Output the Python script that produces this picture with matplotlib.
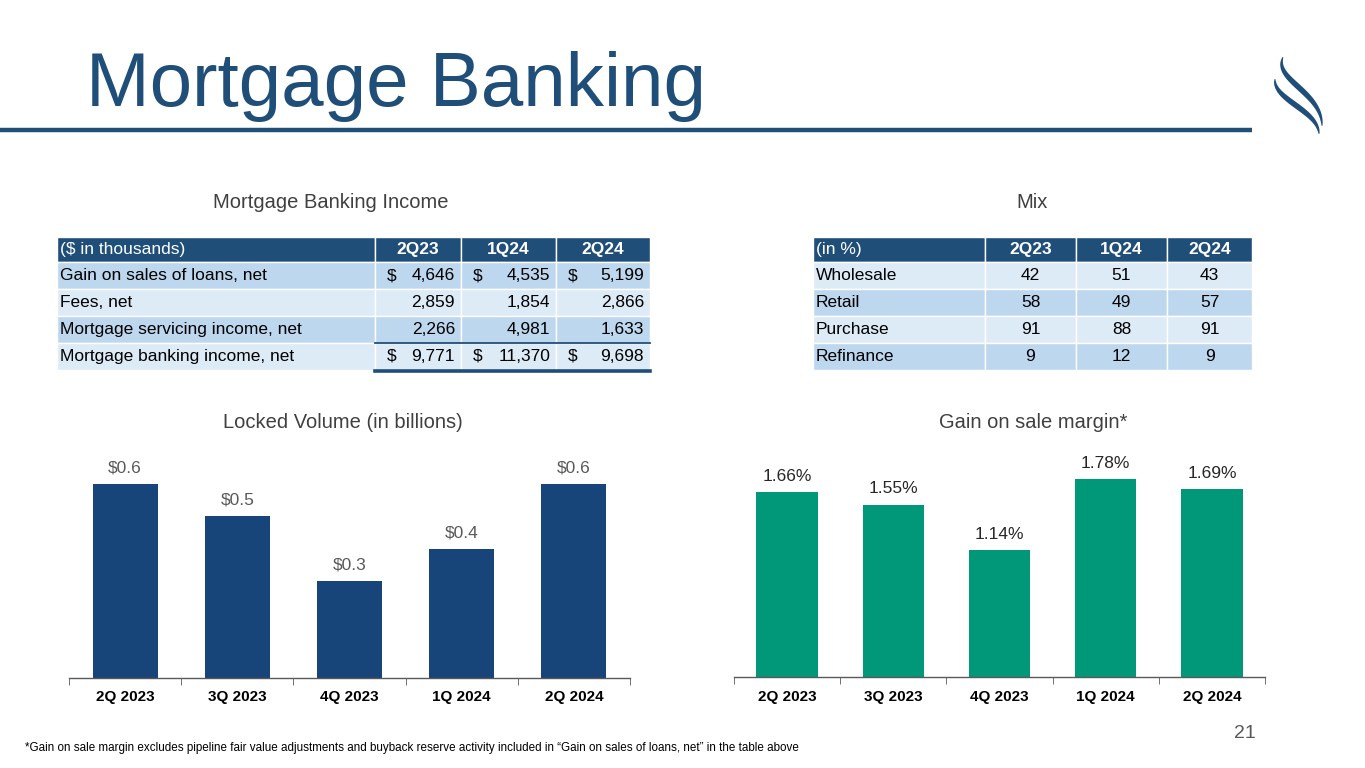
import numpy as np
import matplotlib
matplotlib.use('Agg')
import matplotlib.pyplot as plt
from matplotlib.patches import Rectangle

plt.rcParams['font.family'] = ['Liberation Sans', 'DejaVu Sans']

# Data
quarters = ['2Q 2023', '3Q 2023', '4Q 2023', '1Q 2024', '2Q 2024']
locked_volume = [0.6, 0.5, 0.3, 0.4, 0.6]
gain_margin = [1.66, 1.55, 1.14, 1.78, 1.69]

table_cols = ['2Q23', '1Q24', '2Q24']
income_rows = ['Gain on sales of loans, net', 'Fees, net',
               'Mortgage servicing income, net', 'Mortgage banking income, net']
income_vals = [[4646, 4535, 5199],
               [2859, 1854, 2866],
               [2266, 4981, 1633],
               [9771, 11370, 9698]]
mix_rows = ['Wholesale', 'Retail', 'Purchase', 'Refinance']
mix_vals = [[42, 51, 43],
            [58, 49, 57],
            [91, 88, 91],
            [9, 12, 9]]

W, H = 1365, 768
NAVY = '#1F4E79'
LIGHT = '#DDEBF7'
MID = '#BDD7EE'

fig = plt.figure(figsize=(W / 100, H / 100), dpi=100)
fig.patch.set_facecolor('white')

# overlay axes in pixel coordinates
ov = fig.add_axes([0, 0, 1, 1])
ov.set_xlim(0, W)
ov.set_ylim(H, 0)
ov.axis('off')


def px_axes(x0, x1, ytop, ybot):
    return fig.add_axes([x0 / W, 1 - ybot / H, (x1 - x0) / W, (ybot - ytop) / H])


# Title and rule
ov.text(86, 106, 'Mortgage Banking', fontsize=55, color=NAVY, va='baseline', ha='left')
ov.plot([0, 1252], [130, 130], color=NAVY, lw=3.2, solid_capstyle='butt')


# Logo swooshes
def swoosh(p0, p1, p2, p3, width):
    t = np.linspace(0, 1, 80)
    p0, p1, p2, p3 = map(np.array, (p0, p1, p2, p3))
    pts = (((1 - t) ** 3)[:, None] * p0 + (3 * (1 - t) ** 2 * t)[:, None] * p1
           + (3 * (1 - t) * t ** 2)[:, None] * p2 + (t ** 3)[:, None] * p3)
    d = np.gradient(pts, axis=0)
    n = np.stack([-d[:, 1], d[:, 0]], axis=1)
    n /= np.linalg.norm(n, axis=1)[:, None]
    w = width * np.sin(np.pi * t) ** 0.7 / 2 + 0.3
    poly = np.vstack([pts + n * w[:, None], (pts - n * w[:, None])[::-1]])
    ov.fill(poly[:, 0], poly[:, 1], color=NAVY, lw=0)


swoosh((1283, 57), (1273, 80), (1322, 92), (1322, 126), 5.0)
swoosh((1275, 79), (1273, 100), (1318, 110), (1319, 134), 5.0)

# Section titles
for x, y, s in [(331, 203, 'Mortgage Banking Income'), (1032, 203, 'Mix'),
                (343, 423, 'Locked Volume (in billions)'), (1033, 423, 'Gain on sale margin*')]:
    ov.text(x, y, s, fontsize=14.5, color='#404040', ha='center', va='center')

# Mortgage banking income table
row_edges = [237, 262, 289, 316, 343, 370]
col_edges = [57, 375, 461, 556, 650]
row_colors = [MID, LIGHT, MID, LIGHT]
FS = 12.5

for j in range(4):
    ov.add_patch(Rectangle((col_edges[j], row_edges[0]), col_edges[j + 1] - col_edges[j],
                           row_edges[1] - row_edges[0], facecolor=NAVY, edgecolor='white', lw=1))
ymid = (row_edges[0] + row_edges[1]) / 2
ov.text(col_edges[0] + 3, ymid, '($ in thousands)', color='white', fontsize=FS, va='center')
for j, c in enumerate(table_cols):
    ov.text((col_edges[j + 1] + col_edges[j + 2]) / 2, ymid, c, color='white',
            fontsize=FS, fontweight='bold', ha='center', va='center')

for i, name in enumerate(income_rows):
    y0, y1 = row_edges[i + 1], row_edges[i + 2]
    ym = (y0 + y1) / 2
    for j in range(4):
        ov.add_patch(Rectangle((col_edges[j], y0), col_edges[j + 1] - col_edges[j], y1 - y0,
                               facecolor=row_colors[i], edgecolor='white', lw=1))
    ov.text(col_edges[0] + 3, ym, name, fontsize=FS, color='black', va='center')
    for j, v in enumerate(income_vals[i]):
        if i in (0, 3):
            ov.text(col_edges[j + 1] + 12, ym, '$', fontsize=FS, va='center')
        ov.text(col_edges[j + 2] - 6, ym, f'{v:,}', fontsize=FS, ha='right', va='center')

ov.plot([col_edges[1], col_edges[-1]], [row_edges[4], row_edges[4]], color=NAVY, lw=1.3)
ov.plot([col_edges[1], col_edges[-1]], [row_edges[5] + 1, row_edges[5] + 1], color=NAVY, lw=2.6)

# Mix table
mcol_edges = [813, 985, 1076, 1167, 1252]
mrow_colors = [LIGHT, MID, LIGHT, MID]
for j in range(4):
    ov.add_patch(Rectangle((mcol_edges[j], row_edges[0]), mcol_edges[j + 1] - mcol_edges[j],
                           row_edges[1] - row_edges[0], facecolor=NAVY, edgecolor='white', lw=1))
ov.text(mcol_edges[0] + 3, ymid, '(in %)', color='white', fontsize=FS, va='center')
for j, c in enumerate(table_cols):
    ov.text((mcol_edges[j + 1] + mcol_edges[j + 2]) / 2, ymid, c, color='white',
            fontsize=FS, fontweight='bold', ha='center', va='center')
for i, name in enumerate(mix_rows):
    y0, y1 = row_edges[i + 1], row_edges[i + 2]
    ym = (y0 + y1) / 2
    for j in range(4):
        ov.add_patch(Rectangle((mcol_edges[j], y0), mcol_edges[j + 1] - mcol_edges[j], y1 - y0,
                               facecolor=mrow_colors[i], edgecolor='white', lw=1))
    ov.text(mcol_edges[0] + 3, ym, name, fontsize=FS, va='center')
    for j, v in enumerate(mix_vals[i]):
        ov.text((mcol_edges[j + 1] + mcol_edges[j + 2]) / 2, ym, str(v), fontsize=FS,
                ha='center', va='center')


# Bar charts
def bar_panel(ax, values, color, ymax, fmt, label_color):
    x = np.arange(len(values))
    ax.bar(x, values, width=0.58, color=color)
    ax.set_xlim(-0.5, len(values) - 0.5)
    ax.set_ylim(0, ymax)
    for s in ['top', 'right', 'left']:
        ax.spines[s].set_visible(False)
    ax.spines['bottom'].set_color('#595959')
    ax.spines['bottom'].set_linewidth(1)
    ax.set_yticks([])
    ax.set_xticks(x)
    ax.set_xticklabels(quarters, fontsize=11, fontweight='bold')
    ax.tick_params(axis='x', which='major', length=0, pad=9)
    ax.set_xticks(np.arange(-0.5, len(values)), minor=True)
    ax.tick_params(axis='x', which='minor', length=5, color='#595959', direction='out')
    for xi, v in zip(x, values):
        ax.annotate(fmt(v), (xi, v), xytext=(0, 6), textcoords='offset points',
                    ha='center', va='bottom', fontsize=12.5, color=label_color)
    ax.patch.set_alpha(0)


ax1 = px_axes(69, 630, 460, 678)
bar_panel(ax1, locked_volume, '#17457A', 0.6 * 218 / 194, lambda v: f'${v:.1f}', '#595959')

ax2 = px_axes(734, 1265, 460, 677)
bar_panel(ax2, gain_margin, '#009878', 1.78 * 217 / 198, lambda v: f'{v:.2f}%', '#262626')

# Footnote and page number
ov.text(25, 748, '*Gain on sale margin excludes pipeline fair value adjustments and buyback reserve '
        'activity included in \u201cGain on sales of loans, net\u201d in the table above',
        fontsize=8.4, color='black', va='center', ha='left')
ov.text(1256, 733, '21', fontsize=14, color='#595959', ha='right', va='center')

fig.savefig('out.png', dpi=100)
